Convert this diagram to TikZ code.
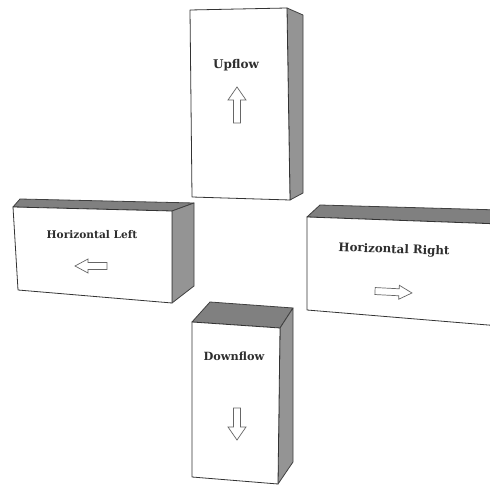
\documentclass[tikz,border=0pt]{standalone}
\usepackage{fontspec}
\setmainfont{DejaVu Serif}
\begin{document}
\begin{tikzpicture}[x=1pt,y=-1pt,
  front/.style={fill=white,draw=black!80,line width=0.8pt,line join=round},
  side/.style={fill=black!42,draw=black!75,line width=0.8pt,line join=round},
  topf/.style={fill=black!50,draw=black!75,line width=0.8pt,line join=round},
  lbl/.style={font=\bfseries,text=black!82,inner sep=0pt},
  barrow/.style={fill=white,draw=black!60,line width=0.7pt,line join=miter}]
\useasboundingbox (0,0) rectangle (490,486);
\clip (0,0) rectangle (490,486);
% Upflow box
\draw[side] (287,8) -- (303,15) -- (303,193) -- (290,200) -- cycle;
\draw[front] (190,10) -- (287,8) -- (290,200) -- (192,197) -- cycle;
\node[lbl,font=\fontsize{12}{14}\selectfont\bfseries] (up) at (236,65) {Upflow};
\begin{scope}[shift={(237,105)},rotate=90]
\draw[barrow] (-18,-3.5) -- (5,-3.5) -- (5,-9) -- (18,0) -- (5,9) -- (5,3.5) -- (-18,3.5) -- cycle;
\end{scope}
% Horizontal Left box
\draw[topf] (20,199) -- (194,203) -- (172,211) -- (13,207) -- cycle;
\draw[side] (172,211) -- (194,203) -- (194,286) -- (172,303) -- cycle;
\draw[front] (13,207) -- (172,211) -- (172,303) -- (18,290) -- cycle;
\node[lbl,font=\fontsize{10.6}{12}\selectfont\bfseries] (hl) at (92,235) {Horizontal Left};
\begin{scope}[shift={(91,266)},rotate=180]
\draw[barrow] (-16,-3.5) -- (3,-3.5) -- (3,-7) -- (16,0) -- (3,7) -- (3,3.5) -- (-16,3.5) -- cycle;
\end{scope}
% Horizontal Right box
\draw[topf] (320,205) -- (500,210) -- (500,224) -- (307,217) -- cycle;
\draw[front] (307,217) -- (500,224) -- (500,326) -- (307,310) -- cycle;
\node[lbl,font=\fontsize{11.8}{14}\selectfont\bfseries,rotate=-2] (hr) at (394,250) {Horizontal Right};
\begin{scope}[shift={(393.5,292)},rotate=-3]
\draw[barrow] (-18.5,-3.5) -- (5.5,-3.5) -- (5.5,-7) -- (18.5,0) -- (5.5,7) -- (5.5,3.5) -- (-18.5,3.5) -- cycle;
\end{scope}
% Downflow box
\draw[topf] (210,302) -- (293,308) -- (280,328) -- (192,322) -- cycle;
\draw[side] (280,328) -- (293,308) -- (293,462) -- (278,484) -- cycle;
\draw[front] (192,322) -- (280,328) -- (278,484) -- (192,477) -- cycle;
\node[lbl,font=\fontsize{11.3}{13}\selectfont\bfseries] (dn) at (234,356) {Downflow};
\begin{scope}[shift={(237,424)},rotate=-90]
\draw[barrow] (-16,-3.5) -- (3,-3.5) -- (3,-9) -- (16,0) -- (3,9) -- (3,3.5) -- (-16,3.5) -- cycle;
\end{scope}
\end{tikzpicture}
\end{document}
